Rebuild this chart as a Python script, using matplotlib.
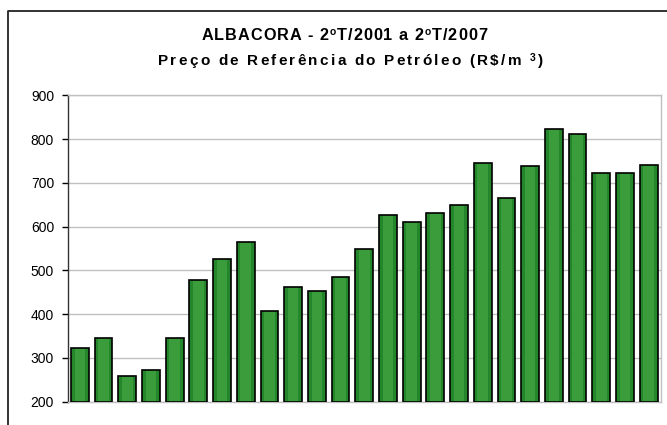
import matplotlib
matplotlib.use("Agg")
import matplotlib.pyplot as plt
from matplotlib.lines import Line2D
from matplotlib import font_manager
from matplotlib.ft2font import FT2Font, LoadFlags

plt.rcParams['font.family'] = ['Liberation Sans', 'DejaVu Sans']

quarters = ["2T01", "3T01", "4T01", "1T02", "2T02", "3T02", "4T02", "1T03", "2T03",
            "3T03", "4T03", "1T04", "2T04", "3T04", "4T04", "1T05", "2T05", "3T05",
            "4T05", "1T06", "2T06", "3T06", "4T06", "1T07", "2T07"]
precos = [323, 346, 258, 273, 346, 477, 527, 565, 407, 461, 454, 484, 550, 627,
          610, 630, 649, 746, 665, 738, 823, 811, 722, 722, 741]
y_ticks = [200, 300, 400, 500, 600, 700, 800, 900]

W, H = 667, 425
fig = plt.figure(figsize=(W / 100, H / 100), dpi=100)
fig.patch.set_facecolor('white')

ax = fig.add_axes([68 / W, 1 - 401.7 / H, (660.5 - 68) / W, (401.7 - 95.3) / H])
x = list(range(len(precos)))
base = y_ticks[0]
heights = [p - base for p in precos]
ax.bar(x, heights, bottom=base, width=0.75, color='#24862a', linewidth=0, zorder=3)
ax.bar(x, heights, bottom=base, width=0.45, color='#3b9c3b', linewidth=0, zorder=3.1)
ax.bar(x, heights, bottom=base, width=0.75, facecolor='none',
       edgecolor='black', linewidth=1.2, zorder=3.2)

ax.set_xlim(-0.5, len(precos) - 0.5)
ax.set_ylim(y_ticks[0], y_ticks[-1])
ax.set_yticks(y_ticks)
ax.set_yticklabels([str(t) for t in y_ticks], fontsize=10)
ax.set_xticks([])
ax.tick_params(axis='y', length=4, width=1, color='black', pad=6)
ax.yaxis.grid(True, color='#c0c0c0', linewidth=1, zorder=0)
ax.set_axisbelow(True)
for s in ['top', 'right', 'bottom']:
    ax.spines[s].set_color('#c0c0c0')
    ax.spines[s].set_linewidth(1)
ax.spines['left'].set_color('#333333')
ax.spines['left'].set_linewidth(1)

# --- title with Excel-like letter spacing ---
fpath = font_manager.findfont(font_manager.FontProperties(family='Liberation Sans', weight='bold'))
ft = FT2Font(fpath)


def advance_px(ch, size):
    ft.set_size(size, 72)
    g = ft.load_char(ord(ch), flags=LoadFlags.NO_HINTING)
    return g.linearHoriAdvance / 65536 * 100 / 72


def spaced_title(parts, left, baseline, target_w):
    # parts: list of (text, size, raise_px)
    chars = [(c, s, r) for t, s, r in parts for c in t]
    advs = [advance_px(c, s) for c, s, r in chars]
    gap = (target_w - sum(advs[:-1])) / (len(chars) - 1)
    xpos = left
    for (c, s, r), a in zip(chars, advs):
        if c != ' ':
            fig.text(xpos / W, 1 - (baseline - r) / H, c, ha='left', va='baseline',
                     fontsize=s, fontweight='bold', color='black')
        xpos += a + gap - a + a if False else a + gap - (gap - gap)
        xpos += 0


def spaced_title2(parts, left, right, baseline):
    chars = [(c, s, r) for t, s, r in parts for c in t]
    advs = [advance_px(c, s) for c, s, r in chars]
    total = sum(advs)
    gap = ((right - left) - total) / (len(chars) - 1)
    xpos = left
    for (c, s, r), a in zip(chars, advs):
        if c != ' ':
            fig.text(xpos / W, 1 - (baseline - r) / H, c, ha='left', va='baseline',
                     fontsize=s, fontweight='bold', color='black')
        xpos += a + gap


spaced_title2([('ALBACORA - 2', 11.7, 0), ('o', 7.4, 5.6), ('T/2001 a 2', 11.7, 0),
               ('o', 7.4, 5.6), ('T/2007', 11.7, 0)], 201.5, 487, 40.3)
spaced_title2([('Preço de Referência do Petróleo (R$/m ', 11, 0), ('3', 7.5, 4.5),
               (')', 11, 0)], 158, 543, 65.3)

# chart area border (left and top visible)
fig.add_artist(Line2D([7.5 / W, 7.5 / W, 1.01], [-0.01, 1 - 11 / H, 1 - 11 / H],
                      transform=fig.transFigure, color='#222222', linewidth=1.3))

fig.savefig('out.png', dpi=100)
